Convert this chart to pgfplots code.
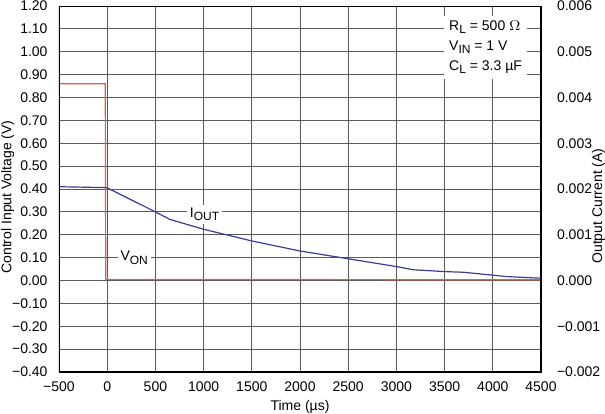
\documentclass[border=0pt]{standalone}
\usepackage{fontspec}
\setmainfont{Liberation Sans}
\usepackage{pgfplots}
\pgfplotsset{compat=1.18}
\definecolor{von}{RGB}{240,90,60}
\definecolor{iout}{RGB}{60,60,150}
\newcommand\sub[1]{\raisebox{-0.45ex}{\fontsize{6}{7}\selectfont #1}}
\pgfplotsset{
  frame/.style={
    width=241pt, height=183pt, scale only axis,
    xmin=-500, xmax=4500,
    major tick length=0,
    scaled y ticks=false,
    tick label style={font=\fontsize{7}{8}\selectfont},
    label style={font=\fontsize{7}{8}\selectfont},
  }
}
\begin{document}
\begin{tikzpicture}[font=\fontsize{7}{8}\selectfont]
\begin{axis}[
  frame,
  ymin=-0.4, ymax=1.2,
  xtick={-500,0,500,1000,1500,2000,2500,3000,3500,4000,4500},
  xticklabels={−500,0,500,1000,1500,2000,2500,3000,3500,4000,4500},
  ytick={-0.4,-0.3,-0.2,-0.1,0,0.1,0.2,0.3,0.4,0.5,0.6,0.7,0.8,0.9,1.0,1.1,1.2},
  yticklabels={−0.40,−0.30,−0.20,−0.10,0.00,0.10,0.20,0.30,0.40,0.50,0.60,0.70,0.80,0.90,1.00,1.10,1.20},
  grid=major,
  grid style={black!65, line width=0.45pt},
  xticklabel style={yshift=-1.2pt},
  yticklabel style={xshift=-2.2pt},
  xlabel={Time (µs)},
  ylabel={Control Input Voltage (V)},
  xlabel style={yshift=2.5pt},
  ylabel style={yshift=-8pt, xshift=-4pt},
]
% V_ON
\addplot[von, line width=0.6pt] coordinates {
  (-500,0.86) (-20,0.86) (-15,0.005) (4500,0.003)
};
\node[fill=white, inner sep=1.5pt] at (axis cs:280,0.10) {V\sub{ON}};
\node[fill=white, inner sep=1.5pt] at (axis cs:1010,0.29) {I\sub{OUT}};
\node[fill=white, inner sep=2.5pt, align=left, font=\fontsize{7}{10}\selectfont]
  at (axis cs:3925,1.02) {R\sub{L} = 500 $\Omega$\\V\sub{IN} = 1 V\\C\sub{L} = 3.3 µF};
\draw[line width=1.1pt] (rel axis cs:0,0) rectangle (rel axis cs:1,1);
\coordinate (bl) at (rel axis cs:0,0);
\coordinate (tr) at (rel axis cs:1,1);
\end{axis}
\begin{axis}[
  frame,
  ymin=-0.002, ymax=0.006,
  axis x line=none,
  axis y line*=right,
  ytick={-0.002,-0.001,0,0.001,0.002,0.003,0.004,0.005,0.006},
  yticklabels={−0.002,−0.001,0.000,0.001,0.002,0.003,0.004,0.005,0.006},
  yticklabel style={xshift=4.5pt},
  ylabel={Output Current (A)},
  ylabel style={yshift=11pt, xshift=-8.5pt},
]
% I_OUT
\addplot[iout, line width=0.6pt] coordinates {
  (-500,0.00205) (-10,0.00203) (0,0.002025) (500,0.00150)
  (650,0.001335) (1000,0.00112) (1500,0.000865) (2000,0.000645)
  (2500,0.000475) (3000,0.000305) (3175,0.000235) (3500,0.000195)
  (3700,0.00018) (4150,0.000085) (4500,0.00005)
};
\end{axis}
\pgfresetboundingbox
\path ([shift={(-29.5pt,-20.5pt)}]bl) rectangle ([shift={(32pt,3pt)}]tr);
\end{tikzpicture}
\end{document}
